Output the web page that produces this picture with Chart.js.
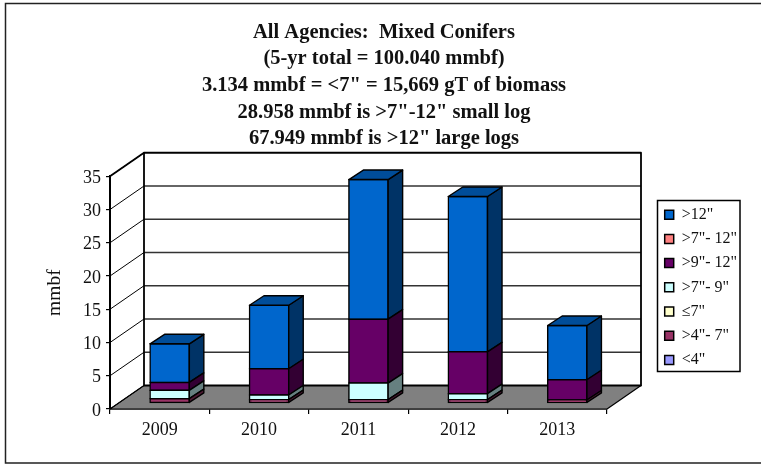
<!DOCTYPE html>
<html><head><meta charset="utf-8">
<style>html,body{margin:0;padding:0;background:#fff}#w{width:761px;height:464px;position:relative}</style>
<script src="https://cdn.jsdelivr.net/npm/chart.js@4/dist/chart.umd.min.js"></script>
</head><body><div id="w"><canvas id="c" width="761" height="464"></canvas></div>
<script>
const years = ['2009','2010','2011','2012','2013'];
const titleLines = ['All Agencies:  Mixed Conifers','(5-yr total = 100.040 mmbf)','3.134 mmbf = <7" = 15,669 gT of biomass','28.958 mmbf is >7"-12" small log','67.949 mmbf is >12" large logs'];
const under4   = [null, null, null, null, null];
const from4to7 = [0.65, 0.5, 0.5, 0.5, 0.45];
const upTo7    = [null, null, null, null, null];
const from7to9 = [1.25, 0.7, 2.5, 0.9, null];
const from9to12 = [1.2, 3.95, 9.6, 6.3, 3.05];
const from7to12 = [null, null, null, null, null];
const over12   = [5.8, 9.55, 21.0, 23.35, 8.15];
const seriesNames = ['<4"','>4"- 7"','≤7"','>7"- 9"','>9"- 12"','>7"- 12"','>12"'];
const seriesValues = [under4, from4to7, upTo7, from7to9, from9to12, from7to12, over12];
const seriesColors = ['#9999FF','#993366','#FFFFCC','#CCFFFF','#660066','#FF8080','#0066CC'];

const SERIF = '"Liberation Serif","Times New Roman",serif';
const INK = '#111';
const WALL = {dx:34, dy:-23.5};
const BAR_SHIFT = {dx:10, dy:-6};
const BAR_DEPTH = {dx:14.5, dy:-9.5};
const LEGEND = {l:657.5, t:200.5, r:740, b:371.5};

function shade(hex, k){
  const n = parseInt(hex.slice(1),16);
  const f = v => Math.round(v*k).toString(16).padStart(2,'0');
  return '#'+f(n>>16&255)+f(n>>8&255)+f(n&255);
}
function poly(ctx, pts, fill, stroke, lw){
  ctx.beginPath();
  pts.forEach((p,i)=> i? ctx.lineTo(p[0],p[1]) : ctx.moveTo(p[0],p[1]));
  ctx.closePath();
  if(fill){ctx.fillStyle=fill;ctx.fill();}
  if(stroke){ctx.strokeStyle=stroke;ctx.lineWidth=lw;ctx.lineJoin='round';ctx.stroke();}
}
const scene = {
  id:'scene',
  afterLayout(chart){
    const lg = chart.legend;
    lg.left = LEGEND.l-1; lg.right = LEGEND.r; lg.top = LEGEND.t-2; lg.bottom = chart.height;
    const tb = chart.titleBlock;
    tb.left = 0; tb.right = 768; tb.top += 2; tb.bottom += 2;
    const s = chart.scales.y, orig = s._computeLabelItems;
    s._computeLabelItems = function(ca){
      return orig.call(s,ca).map(it=>{
        const t = it.options.translation;
        it.options.translation = [t[0], t[1]+2];
        return it;
      });
    };
    s._labelItems = null;
  },
  beforeDraw(chart){
    const c = chart.ctx;
    c.save();
    c.fillStyle='#fff'; c.fillRect(0,0,chart.width,chart.height);
    c.strokeStyle='#222'; c.lineWidth=1.5;
    c.beginPath(); c.moveTo(chart.width,3.5); c.lineTo(5.5,3.5); c.lineTo(5.5,463); c.lineTo(chart.width,463); c.stroke();
    c.lineWidth=1.5; c.strokeStyle='#000';
    c.strokeRect(LEGEND.l,LEGEND.t,LEGEND.r-LEGEND.l,LEGEND.b-LEGEND.t);
    c.restore();
  },
  beforeDatasetsDraw(chart){
    const c = chart.ctx, a = chart.chartArea, y = chart.scales.y;
    const d = WALL;
    c.save();
    poly(c,[[a.left,a.bottom],[a.right,a.bottom],[a.right+d.dx,a.bottom+d.dy],[a.left+d.dx,a.bottom+d.dy]],'#808080','#000',1.2);
    y.ticks.forEach(t=>{
      const py = y.getPixelForValue(t.value);
      c.strokeStyle='#000'; c.lineWidth=1;
      c.beginPath(); c.moveTo(a.left,py); c.lineTo(a.left+d.dx,py+d.dy); c.stroke();
      if(t.value>0 && t.value<35){
        c.strokeStyle='#333'; c.lineWidth=1.4;
        c.beginPath(); c.moveTo(a.left+d.dx,py+d.dy); c.lineTo(a.right+d.dx,py+d.dy); c.stroke();
      }
    });
    c.strokeStyle='#000'; c.lineWidth=1.8;
    c.strokeRect(a.left+d.dx,a.top+d.dy,a.right-a.left,a.bottom-a.top);
    c.beginPath(); c.moveTo(a.left,a.top); c.lineTo(a.left+d.dx,a.top+d.dy); c.stroke();
    c.restore();
    c.save();
    c.translate(BAR_SHIFT.dx,BAR_SHIFT.dy);
  },
  afterDatasetDraw(chart,args){
    const c = chart.ctx, d = BAR_DEPTH, col = chart.data.datasets[args.index].backgroundColor;
    args.meta.data.forEach(b=>{
      if(!(Math.abs(b.base-b.y)>=0.2)) return;
      const r = b.x+b.width/2, l = b.x-b.width/2;
      poly(c,[[r,b.y],[r+d.dx,b.y+d.dy],[r+d.dx,b.base+d.dy],[r,b.base]],shade(col,0.5),'#000',1.4);
      if(args.index===chart.data.datasets.length-1)
        poly(c,[[l,b.y],[l+d.dx,b.y+d.dy],[r+d.dx,b.y+d.dy],[r,b.y]],shade(col,0.75),'#000',1.4);
    });
  },
  afterDatasetsDraw(chart){ chart.ctx.restore(); }
};
new Chart(document.getElementById('c'),{
  type:'bar',
  data:{labels:years,datasets:seriesNames.map((n,i)=>({
    label:n,data:seriesValues[i],backgroundColor:seriesColors[i],borderColor:'#000',borderWidth:1.5,
    borderSkipped:false,inflateAmount:0.75,clip:false,categoryPercentage:0.395,barPercentage:1
  }))},
  plugins:[scene],
  options:{
    responsive:false,animation:false,events:[],
    layout:{padding:{left:8,top:17,right:154,bottom:5}},
    plugins:{
      tooltip:{enabled:false},
      title:{display:true,text:titleLines,color:INK,font:{family:SERIF,size:20.5,weight:'bold',lineHeight:1.3},padding:{top:0,bottom:26}},
      legend:{position:'chartArea',align:'start',reverse:true,
        labels:{boxWidth:9,boxHeight:9,padding:8.2,color:INK,font:{family:SERIF,size:16}}}
    },
    scales:{
      x:{stacked:true,afterFit:s=>{s.height=50;},
        grid:{drawOnChartArea:false,drawTicks:true,tickLength:5,color:'#000',lineWidth:1.2},
        border:{color:'#000',width:1.5},
        ticks:{color:INK,padding:5,font:{family:SERIF,size:18},maxRotation:0}},
      y:{stacked:true,min:0,max:35,afterFit:s=>{s.width=102;},
        title:{display:true,text:'mmbf',color:INK,font:{family:SERIF,size:19.5},padding:{top:35,bottom:0}},
        grid:{drawOnChartArea:false,drawTicks:true,tickLength:4,color:'#000',lineWidth:1.2},
        border:{color:'#000',width:2},
        ticks:{stepSize:5,color:INK,padding:5,font:{family:SERIF,size:18},autoSkip:false}}
    }
  }
});
</script></body></html>
